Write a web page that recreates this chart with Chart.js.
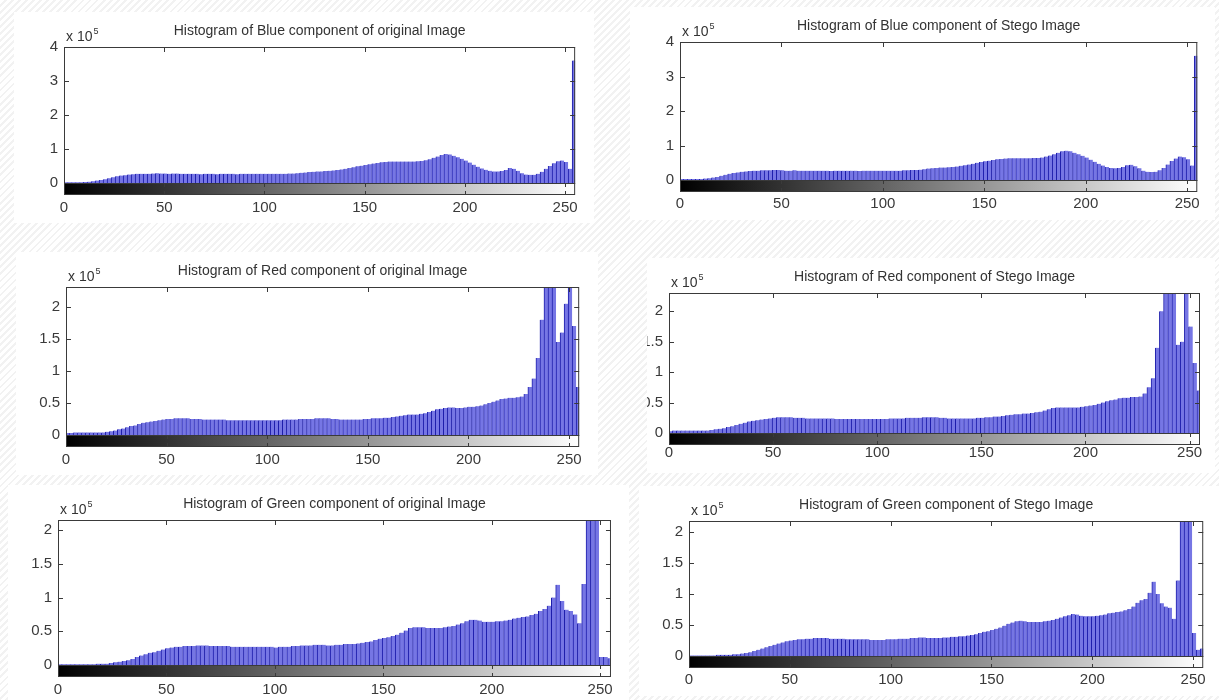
<!DOCTYPE html>
<html>
<head>
<meta charset="utf-8">
<script src="https://cdn.jsdelivr.net/npm/chart.js@4.4.0/dist/chart.umd.min.js"></script>
<style>
    body {
        margin: 0;
        width: 1219px;
        height: 700px;
        overflow: hidden;
        position: relative;
        background: repeating-linear-gradient(135deg, #ffffff 0 3px, #f2f2f2 3px 5px);
    }
    .panel { position: absolute; background: #fff; overflow: hidden; }
    .panel canvas { position: absolute; top: 0; }
</style>
</head>
<body>
<div class="panel" id="p1"><canvas id="c1"></canvas></div>
<div class="panel" id="p2"><canvas id="c2"></canvas></div>
<div class="panel" id="p3"><canvas id="c3"></canvas></div>
<div class="panel" id="p4"><canvas id="c4"></canvas></div>
<div class="panel" id="p5"><canvas id="c5"></canvas></div>
<div class="panel" id="p6"><canvas id="c6"></canvas></div>
<script>
// histogram bins, two grey levels per bar (0-1, 2-3, ... 254-255)
const binStarts = Array.from({ length: 128 }, (_, i) => i * 2);

// counts in units of 10^5
const blueOriginal = [
    0.02,0.02,0.02,0.02,0.02,0.03,0.04,0.05,0.07,0.09,0.11,0.14,0.17,0.2,0.22,0.23,
    0.25,0.26,0.27,0.27,0.27,0.27,0.28,0.29,0.28,0.28,0.27,0.28,0.28,0.27,0.27,0.27,
    0.27,0.27,0.26,0.27,0.27,0.27,0.26,0.27,0.27,0.27,0.27,0.26,0.27,0.27,0.27,0.27,
    0.27,0.27,0.27,0.27,0.27,0.27,0.27,0.27,0.28,0.28,0.29,0.3,0.31,0.32,0.33,0.34,
    0.34,0.35,0.36,0.37,0.38,0.4,0.42,0.44,0.46,0.49,0.51,0.53,0.55,0.57,0.59,0.61,
    0.62,0.63,0.63,0.63,0.63,0.63,0.63,0.63,0.64,0.65,0.67,0.7,0.74,0.78,0.82,0.85,
    0.84,0.8,0.76,0.71,0.66,0.6,0.54,0.48,0.43,0.39,0.36,0.34,0.34,0.35,0.38,0.44,
    0.42,0.36,0.29,0.25,0.24,0.24,0.27,0.33,0.42,0.5,0.58,0.64,0.66,0.62,0.42,3.6
];
const blueStego = [
    0.03,0.03,0.03,0.03,0.03,0.03,0.04,0.05,0.07,0.09,0.12,0.15,0.18,0.2,0.22,0.24,
    0.25,0.26,0.27,0.27,0.28,0.28,0.28,0.29,0.29,0.28,0.27,0.27,0.28,0.27,0.27,0.27,
    0.27,0.27,0.27,0.27,0.27,0.26,0.27,0.27,0.27,0.27,0.27,0.27,0.26,0.27,0.27,0.27,
    0.27,0.27,0.27,0.27,0.27,0.27,0.27,0.28,0.28,0.29,0.29,0.3,0.31,0.33,0.34,0.35,
    0.36,0.36,0.37,0.38,0.39,0.41,0.43,0.45,0.47,0.5,0.52,0.54,0.56,0.58,0.6,0.61,
    0.62,0.63,0.63,0.63,0.63,0.63,0.63,0.64,0.64,0.65,0.68,0.71,0.75,0.79,0.83,0.85,
    0.83,0.79,0.75,0.7,0.65,0.59,0.53,0.47,0.42,0.38,0.35,0.34,0.35,0.38,0.43,0.44,
    0.4,0.34,0.27,0.24,0.23,0.24,0.28,0.35,0.45,0.55,0.62,0.68,0.66,0.6,0.42,3.6
];
const redOriginal = [
    0.03,0.03,0.04,0.04,0.04,0.04,0.04,0.04,0.04,0.04,0.05,0.06,0.07,0.09,0.1,0.12,
    0.14,0.15,0.17,0.19,0.2,0.21,0.22,0.23,0.24,0.25,0.25,0.26,0.26,0.26,0.26,0.25,
    0.25,0.25,0.24,0.24,0.24,0.24,0.24,0.24,0.23,0.23,0.23,0.23,0.23,0.23,0.23,0.23,
    0.23,0.23,0.23,0.23,0.23,0.23,0.24,0.24,0.24,0.24,0.25,0.25,0.25,0.25,0.26,0.26,
    0.26,0.26,0.25,0.25,0.24,0.24,0.24,0.24,0.24,0.24,0.25,0.25,0.26,0.26,0.26,0.27,
    0.27,0.28,0.29,0.3,0.31,0.32,0.32,0.32,0.33,0.34,0.36,0.38,0.4,0.41,0.42,0.43,
    0.43,0.42,0.42,0.43,0.44,0.44,0.45,0.46,0.48,0.5,0.52,0.54,0.56,0.57,0.58,0.58,
    0.59,0.6,0.64,0.75,0.88,1.2,1.8,2.5,3.0,2.6,1.45,1.6,2.05,2.5,1.7,0.75
];
const redStego = [
    0.03,0.04,0.04,0.04,0.04,0.04,0.04,0.04,0.04,0.04,0.05,0.06,0.07,0.08,0.1,0.11,
    0.13,0.15,0.17,0.19,0.2,0.21,0.22,0.23,0.24,0.25,0.26,0.26,0.26,0.26,0.25,0.25,
    0.25,0.24,0.24,0.24,0.24,0.24,0.24,0.24,0.23,0.23,0.23,0.23,0.23,0.23,0.23,0.23,
    0.23,0.23,0.23,0.23,0.23,0.24,0.24,0.24,0.24,0.25,0.25,0.25,0.25,0.26,0.26,0.26,
    0.26,0.25,0.25,0.24,0.24,0.24,0.24,0.24,0.24,0.24,0.25,0.25,0.26,0.26,0.27,0.27,
    0.28,0.29,0.3,0.31,0.31,0.32,0.32,0.33,0.34,0.35,0.37,0.39,0.41,0.42,0.42,0.42,
    0.42,0.42,0.42,0.43,0.44,0.45,0.46,0.48,0.5,0.52,0.54,0.55,0.57,0.58,0.58,0.59,
    0.59,0.6,0.65,0.75,0.9,1.4,2.0,3.0,3.0,2.3,1.45,1.5,2.5,1.75,1.15,0.7
];
const greenOriginal = [
    0.01,0.01,0.01,0.01,0.01,0.01,0.01,0.01,0.01,0.02,0.02,0.02,0.03,0.04,0.05,0.06,
    0.07,0.09,0.12,0.14,0.16,0.18,0.19,0.21,0.23,0.25,0.26,0.27,0.27,0.28,0.28,0.28,
    0.29,0.29,0.29,0.28,0.28,0.28,0.28,0.28,0.27,0.27,0.27,0.27,0.27,0.27,0.27,0.27,
    0.27,0.27,0.26,0.27,0.27,0.27,0.28,0.28,0.29,0.29,0.29,0.3,0.3,0.3,0.29,0.29,
    0.3,0.3,0.31,0.31,0.31,0.32,0.33,0.34,0.35,0.37,0.39,0.4,0.41,0.43,0.45,0.48,
    0.51,0.55,0.56,0.56,0.56,0.55,0.55,0.55,0.55,0.56,0.57,0.58,0.6,0.62,0.65,0.67,
    0.67,0.66,0.64,0.64,0.64,0.65,0.65,0.66,0.67,0.69,0.7,0.71,0.72,0.74,0.76,0.8,
    0.83,0.88,1.0,1.19,0.95,0.82,0.8,0.75,0.62,1.2,3,3,3,0.12,0.12,0.1
];
const greenStego = [
    0.01,0.01,0.01,0.01,0.01,0.01,0.01,0.02,0.02,0.02,0.02,0.03,0.03,0.04,0.05,0.06,
    0.08,0.1,0.12,0.14,0.16,0.18,0.2,0.22,0.24,0.25,0.26,0.27,0.27,0.28,0.28,0.29,
    0.29,0.29,0.29,0.28,0.28,0.28,0.28,0.27,0.27,0.27,0.27,0.27,0.27,0.26,0.26,0.26,
    0.26,0.27,0.27,0.27,0.28,0.28,0.28,0.29,0.29,0.3,0.3,0.29,0.29,0.29,0.29,0.3,
    0.3,0.31,0.31,0.32,0.32,0.33,0.34,0.35,0.37,0.39,0.4,0.42,0.44,0.46,0.49,0.52,
    0.54,0.56,0.57,0.56,0.55,0.55,0.55,0.55,0.56,0.57,0.58,0.6,0.62,0.64,0.66,0.68,
    0.67,0.65,0.64,0.64,0.64,0.65,0.66,0.67,0.69,0.7,0.71,0.72,0.74,0.76,0.8,0.86,
    0.9,0.92,1.02,1.2,1.0,0.85,0.8,0.78,0.6,1.22,3,3,3,0.37,0.1,0.12
];

const titles = [
    'Histogram of Blue component of original Image',
    'Histogram of Blue component of Stego Image',
    'Histogram of Red component of original Image',
    'Histogram of Red component of Stego Image',
    'Histogram of Green component of original Image',
    'Histogram of Green component of Stego Image'
];
const yLimits = [4, 4, 2.31, 2.3, 2.15, 2.18];
const yTickSteps = [1, 1, 0.5, 0.5, 0.5, 0.5];
const xTickStep = 50;

const FONT = "'Liberation Sans', Arial, sans-serif";
const AXIS_W = 50, TITLE_H = 35, XAXIS_H = 40, RIGHT_PAD = 15, BAR_H = 12;

// plot box of every panel in page pixels: left, top, right, zero line
const layout = [
    { id: 1, L: 64,  T: 47,  R: 579,  Z: 183, gap: 25 },
    { id: 2, L: 680, T: 42,  R: 1200, Z: 180, gap: 24 },
    { id: 3, L: 66,  T: 287, R: 583,  Z: 435, gap: 25 },
    { id: 4, L: 669, T: 293, R: 1200, Z: 433, gap: 20, clipLeft: 647 },
    { id: 5, L: 58,  T: 520, R: 614,  Z: 665, gap: 25 },
    { id: 6, L: 689, T: 521, R: 1206, Z: 656, gap: 24 }
];
const seriesList = [blueOriginal, blueStego, redOriginal, redStego, greenOriginal, greenStego];

// frame, inner ticks, grey colour bar and the exponent label (MATLAB imhist look)
const histFrame = {
    id: 'histFrame',
    afterDraw(chart) {
        const { ctx, chartArea: a, scales: { x, y } } = chart;
        ctx.save();
        ctx.lineWidth = 1;
        ctx.strokeStyle = '#3a3a3a';

        // colour bar under the axes
        const g = ctx.createLinearGradient(x.getPixelForValue(0), 0, x.getPixelForValue(255), 0);
        g.addColorStop(0, '#000');
        g.addColorStop(1, '#fff');
        ctx.fillStyle = g;
        ctx.fillRect(a.left, a.bottom, a.right - a.left, BAR_H);
        ctx.strokeRect(a.left + 0.5, a.bottom + 0.5, a.right - a.left - 1, BAR_H - 1);
        x.ticks.forEach(t => {
            const px = Math.round(x.getPixelForValue(t.value)) + 0.5;
            ctx.beginPath();
            ctx.moveTo(px, a.bottom);
            ctx.lineTo(px, a.bottom + 4);
            ctx.moveTo(px, a.bottom + BAR_H);
            ctx.lineTo(px, a.bottom + BAR_H - 4);
            ctx.stroke();
        });

        // axes box
        ctx.strokeRect(a.left + 0.5, a.top + 0.5, a.right - a.left - 1, a.bottom - a.top);
        ctx.beginPath();
        x.ticks.forEach(t => {
            const px = Math.round(x.getPixelForValue(t.value)) + 0.5;
            ctx.moveTo(px, a.top);
            ctx.lineTo(px, a.top + 5);
        });
        y.ticks.forEach(t => {
            const py = Math.round(y.getPixelForValue(t.value)) + 0.5;
            ctx.moveTo(a.left, py);
            ctx.lineTo(a.left + 5, py);
            ctx.moveTo(a.right, py);
            ctx.lineTo(a.right - 5, py);
        });
        ctx.stroke();

        // "x 10^5"
        ctx.fillStyle = '#333';
        ctx.textBaseline = 'alphabetic';
        ctx.font = '14px ' + FONT;
        ctx.fillText('x 10', a.left + 2, a.top - 6);
        const w = ctx.measureText('x 10').width;
        ctx.font = '9px ' + FONT;
        ctx.fillText('5', a.left + 3 + w, a.top - 13);
        ctx.restore();
    }
};

layout.forEach((p, i) => {
    const values = seriesList[i];
    const cw = AXIS_W + (p.R - p.L) + RIGHT_PAD;
    const ch = TITLE_H + (p.Z - p.T) + XAXIS_H;
    const left = p.L - AXIS_W;
    const top = p.T - TITLE_H;

    const panel = document.getElementById('p' + p.id);
    const boxLeft = p.clipLeft || left;
    panel.style.left = boxLeft + 'px';
    panel.style.top = top + 'px';
    panel.style.width = (left + cw - boxLeft) + 'px';
    panel.style.height = ch + 'px';

    const canvas = document.getElementById('c' + p.id);
    canvas.width = cw;
    canvas.height = ch;
    canvas.style.left = (left - boxLeft) + 'px';

    new Chart(canvas, {
        type: 'bar',
        data: {
            datasets: [{
                data: binStarts.map((b, k) => ({ x: b + 0.5, y: values[k] })),
                backgroundColor: '#7676e4',
                borderColor: '#1c1cab',
                borderWidth: { left: 1, right: 0, top: 0, bottom: 0 },
                borderSkipped: false,
                barPercentage: 1,
                categoryPercentage: 1,
                clip: 0
            }]
        },
        options: {
            responsive: false,
            animation: false,
            layout: { padding: { left: 0, right: RIGHT_PAD, top: 0, bottom: 0 } },
            plugins: {
                legend: { display: false },
                tooltip: { enabled: false },
                title: {
                    display: true,
                    text: titles[i],
                    fullSize: false,
                    color: '#333',
                    font: { family: FONT, size: 14, weight: 'normal', lineHeight: 1 },
                    padding: { top: 12, bottom: 9 }
                }
            },
            scales: {
                x: {
                    type: 'linear',
                    min: 0,
                    max: 255,
                    offset: false,
                    grid: { display: false, drawTicks: false, offset: false },
                    border: { display: false },
                    ticks: {
                        stepSize: xTickStep,
                        includeBounds: false,
                        maxRotation: 0,
                        padding: p.gap - 9,
                        color: '#3a3a3a',
                        font: { family: FONT, size: 15 }
                    },
                    afterFit: s => { s.height = XAXIS_H; }
                },
                y: {
                    min: 0,
                    max: yLimits[i],
                    grid: { display: false, drawTicks: false },
                    border: { display: false },
                    ticks: {
                        stepSize: yTickSteps[i],
                        includeBounds: false,
                        padding: 6,
                        color: '#3a3a3a',
                        font: { family: FONT, size: 15 },
                        callback: v => String(Math.round(v * 10) / 10)
                    },
                    afterFit: s => { s.width = AXIS_W; }
                }
            }
        },
        plugins: [histFrame]
    });
});
</script>
</body>
</html>
